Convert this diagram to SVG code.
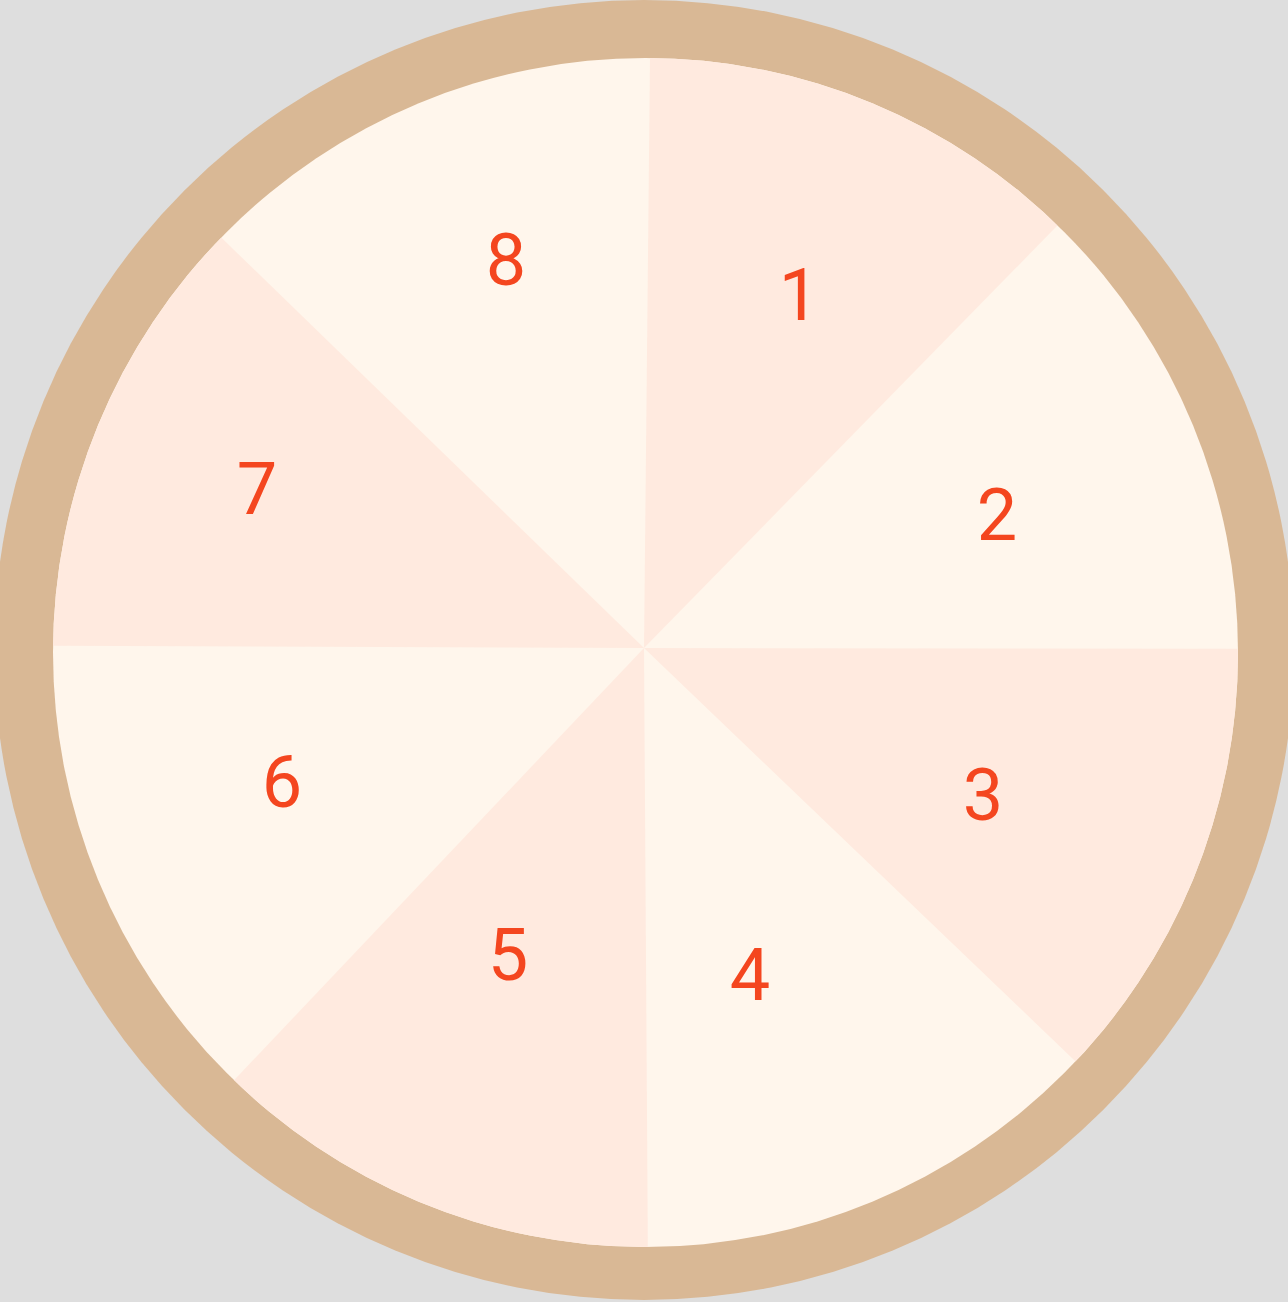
<svg xmlns="http://www.w3.org/2000/svg" width="1288" height="1302" viewBox="0 0 1288 1302">
<style>
.odd{fill:#ffeadf}
.lbl{font-family:Roboto,"Liberation Sans",Arial,sans-serif;font-size:72px;fill:#f4461f;text-anchor:middle}
</style>
<defs>
<clipPath id="inner"><ellipse cx="645.5" cy="652.5" rx="592.5" ry="594.5"/></clipPath>
</defs>
<rect width="1288" height="1302" fill="#dedede"/>
<circle id="ring" cx="644" cy="650" r="650" fill="#d9b895"/>
<ellipse cx="645.5" cy="652.5" rx="592.5" ry="594.5" fill="#fff6ec"/>
<g clip-path="url(#inner)">
<g id="sector1"><polygon class="odd" points="644,648 651.8,-119 1180.9,99.4"/></g>
<g id="sector3"><polygon class="odd" points="644,648 1416,649 1205.6,1186"/></g>
<g id="sector5"><polygon class="odd" points="644,648 649,1427 111,1210"/></g>
<g id="sector7"><polygon class="odd" points="644,648 -124,645 95,115"/></g>
</g>
<g id="labels">
<text class="lbl" x="799" y="320">1</text>
<text class="lbl" x="997" y="540">2</text>
<text class="lbl" x="983" y="820">3</text>
<text class="lbl" x="750" y="1000">4</text>
<text class="lbl" x="508" y="980">5</text>
<text class="lbl" x="282" y="807">6</text>
<text class="lbl" x="257" y="514">7</text>
<text class="lbl" x="506" y="285">8</text>
</g>
</svg>
